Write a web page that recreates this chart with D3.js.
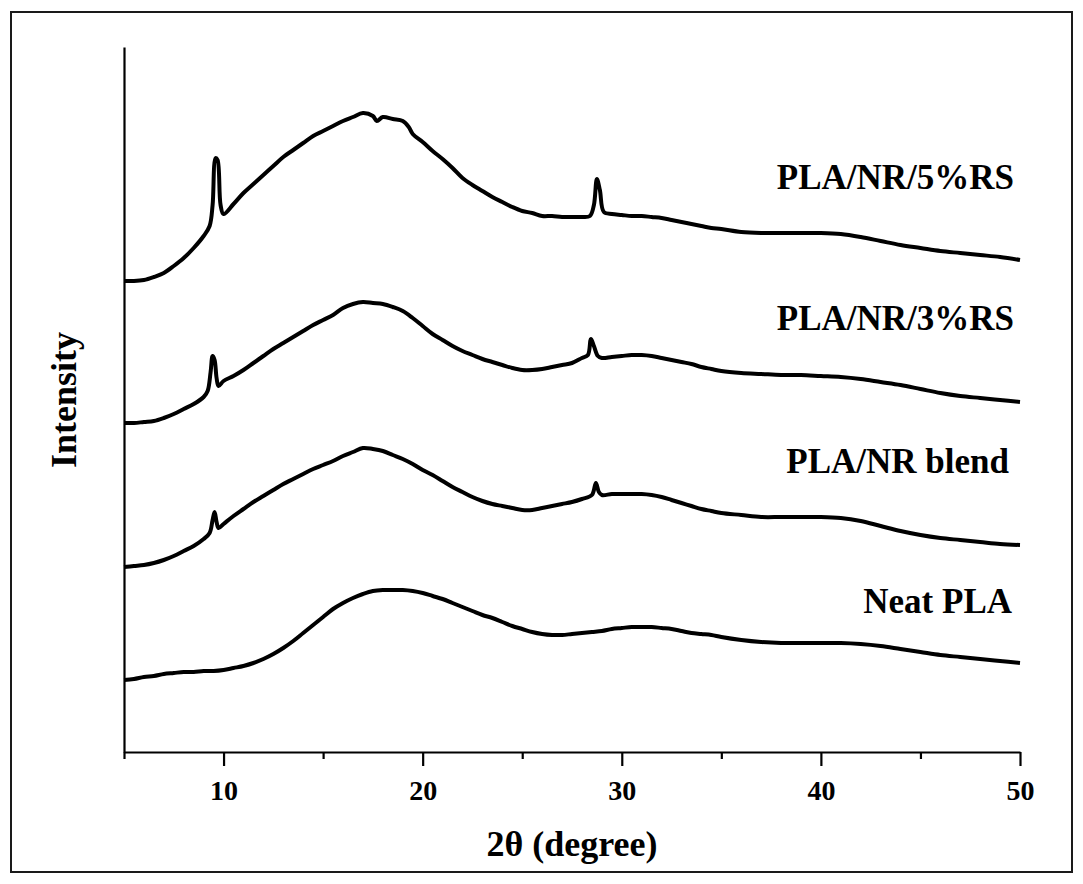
<!DOCTYPE html>
<html>
<head>
<meta charset="utf-8">
<script src="https://cdn.jsdelivr.net/npm/d3@7"></script>
<style>
  html, body { margin: 0; padding: 0; background: #fff; }
  svg { display: block; }
  text { font-family: "Liberation Serif", "Times New Roman", serif; font-weight: bold; fill: #000; }
</style>
</head>
<body>
<svg id="chart" width="1083" height="884"></svg>
<script>
// 2θ (degree) sample positions and intensities (a.u., curves stacked with offsets as in the figure)
const theta5RS = [5,5.5,6,6.5,7,7.5,8,8.5,9,9.3,9.45,9.6,9.7,9.85,10,10.5,11,11.5,12,12.5,13,13.5,14,14.5,15,15.5,16,16.5,17,17.5,17.7,18,18.5,19,19.3,19.5,20,20.5,21,21.5,22,22.5,23,23.5,24,24.5,25,25.5,26,26.5,27,27.5,28,28.4,28.6,28.75,28.9,29.1,29.5,30,30.5,31,31.5,32,32.5,33,33.5,34,34.5,35,36,37,38,39,40,41,42,43,44,45,46,47,48,49,50];
const int5RS = [471,471,472,475,479,486,494,504,516,526,547,594,592,547,538,548,559,568,577,586,595,602,609,616,621,626,631,635,639,636,631,635,633,631,625,618,610,601,593,584,574,567,561,555,550,545,541,539,536,536,535,535,535,536,547,573,562,540,538,537,536,536,535,534,532,530,528,526,524,523,520,519,519,519,519,518,515,511,507,504,501,499,497,495,492];

const theta3RS = [5,5.5,6,6.5,7,7.5,8,8.5,9,9.2,9.35,9.45,9.55,9.65,9.75,10,10.5,11,11.5,12,12.5,13,13.5,14,14.5,15,15.5,16,16.5,17,17.5,18,18.5,19,19.5,20,20.5,21,21.5,22,22.5,23,23.5,24,24.5,25,25.5,26,26.5,27,27.5,28,28.3,28.45,28.6,28.8,29,29.5,30,30.5,31,31.5,32,32.5,33,33.5,34,34.5,35,36,37,38,39,40,41,42,43,44,45,46,47,48,49,50];
const int3RS = [329,329,330,331,334,338,343,348,355,361,380,396,392,374,366,371,376,382,389,396,403,409,415,421,427,432,437,444,448,450,449,448,445,441,434,426,418,412,406,401,397,393,390,387,384,382,382,383,385,387,389,394,397,413,406,396,394,395,396,397,397,396,394,392,390,388,385,383,381,379,378,377,377,376,375,373,370,367,363,359,356,354,352,350];

const thetaBlend = [5,5.5,6,6.5,7,7.5,8,8.5,9,9.3,9.45,9.55,9.65,9.75,10,10.5,11,11.5,12,12.5,13,13.5,14,14.5,15,15.5,16,16.5,17,17.5,18,18.5,19,19.5,20,20.5,21,21.5,22,22.5,23,23.5,24,24.5,25,25.5,26,26.5,27,27.5,28,28.5,28.7,28.85,29,29.5,30,30.5,31,31.5,32,32.5,33,33.5,34,34.5,35,36,37,38,39,40,41,42,43,44,45,46,47,48,49,50];
const intBlend = [185,186,187,189,192,196,201,206,213,219,232,240,230,224,228,236,243,250,256,262,268,273,278,283,287,291,296,300,304,303,301,297,293,288,282,277,271,265,260,255,251,248,246,244,242,242,244,246,248,250,253,257,269,260,257,258,258,258,258,257,255,252,249,246,243,241,239,237,235,235,235,235,234,231,226,221,217,214,212,210,208,207];

const thetaNeat = [5,5.5,6,6.5,7,7.5,8,8.5,9,9.5,10,10.5,11,11.5,12,12.5,13,13.5,14,14.5,15,15.5,16,16.5,17,17.5,18,18.5,19,19.5,20,20.5,21,21.5,22,22.5,23,23.5,24,24.5,25,25.5,26,26.5,27,27.5,28,28.5,29,29.5,30,30.5,31,31.5,32,32.5,33,33.5,34,34.5,35,36,37,38,39,40,41,42,43,44,45,46,47,48,49,50];
const intNeat = [72,73,75,76,78,79,80,80,81,81,82,84,86,89,93,98,104,111,119,127,135,143,149,154,158,161,162,162,162,161,159,156,153,149,145,141,137,134,130,126,123,120,118,117,117,118,119,120,121,123,124,125,125,125,124,123,121,119,118,117,115,112,110,109,109,109,109,108,106,103,100,97,95,93,91,89];

const seriesNames = ["PLA/NR/5%RS", "PLA/NR/3%RS", "PLA/NR blend", "Neat PLA"];
const majorTicks = [10, 20, 30, 40, 50];
const minorTicks = [5, 15, 25, 35, 45];
const xTitle = "2θ (degree)";
const yTitle = "Intensity";

const svg = d3.select("#chart");

// outer frame
svg.append("rect")
  .attr("x", 11).attr("y", 12).attr("width", 1061).attr("height", 860)
  .attr("fill", "none").attr("stroke", "#1a1a1a").attr("stroke-width", 2);

const x = d3.scaleLinear().domain([5, 50]).range([124, 1020]);
const y = d3.scaleLinear().domain([0, 705]).range([752, 47]);

const series = [
  { name: seriesNames[0], xs: theta5RS, ys: int5RS },
  { name: seriesNames[1], xs: theta3RS, ys: int3RS },
  { name: seriesNames[2], xs: thetaBlend, ys: intBlend },
  { name: seriesNames[3], xs: thetaNeat, ys: intNeat }
];

const line = d3.line()
  .x(d => x(d[0]))
  .y(d => y(d[1]))
  .curve(d3.curveCatmullRom.alpha(0.5));

svg.append("g").selectAll("path")
  .data(series)
  .join("path")
  .attr("d", s => line(s.xs.map((t, i) => [t, s.ys[i]])))
  .attr("fill", "none")
  .attr("stroke", "#000")
  .attr("stroke-width", 4)
  .attr("stroke-linejoin", "round");

// axes
const gx = svg.append("g").attr("transform", `translate(0,${y(0)})`)
  .call(d3.axisBottom(x).tickValues(majorTicks).tickSize(14).tickSizeOuter(0).tickPadding(14).tickFormat(d3.format("d")));
const gxm = svg.append("g").attr("transform", `translate(0,${y(0)})`)
  .call(d3.axisBottom(x).tickValues(minorTicks).tickSize(7).tickSizeOuter(0).tickFormat(""));
gxm.select(".domain").remove();
const gy = svg.append("g").attr("transform", `translate(${x(5)},0)`)
  .call(d3.axisLeft(y).tickValues([]).tickSizeOuter(0));

[gx, gxm, gy].forEach(g => {
  g.selectAll("path, line").attr("stroke", "#000").attr("stroke-width", 2.2);
});
gx.selectAll("text")
  .style("font-family", "'Liberation Serif', 'Times New Roman', serif")
  .style("font-weight", "bold")
  .style("font-size", "28px")
  .attr("fill", "#000");

// axis titles
svg.append("text")
  .attr("x", 572).attr("y", 856)
  .attr("text-anchor", "middle")
  .style("font-size", "36px")
  .text(xTitle);

svg.append("text")
  .attr("transform", "translate(76,400) rotate(-90)")
  .attr("text-anchor", "middle")
  .style("font-size", "36px")
  .text(yTitle);

// series labels
const labelPos = [[1014, 189], [1014, 330], [1009, 473], [1012, 613]];
svg.append("g").selectAll("text")
  .data(series)
  .join("text")
  .attr("x", (d, i) => labelPos[i][0])
  .attr("y", (d, i) => labelPos[i][1])
  .attr("text-anchor", "end")
  .style("font-size", "35px")
  .text(d => d.name);
</script>
</body>
</html>
